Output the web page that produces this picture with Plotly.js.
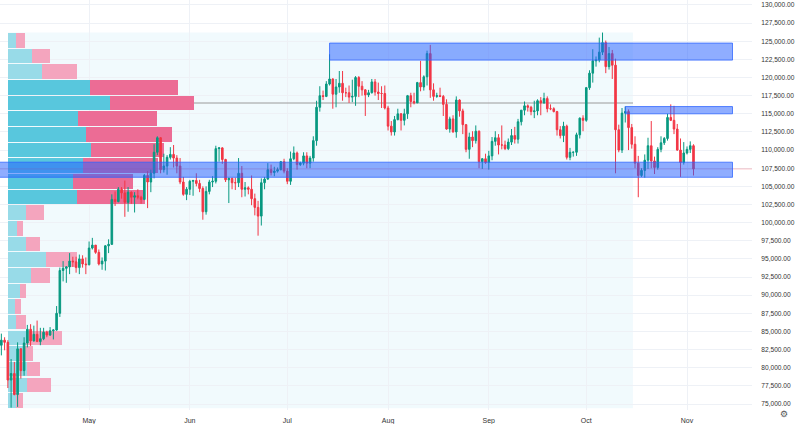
<!DOCTYPE html>
<html><head><meta charset="utf-8">
<script src="https://cdn.plot.ly/plotly-3.0.1.min.js"></script>
<style>html,body{margin:0;padding:0;background:#fff}#chart{width:800px;height:424px}</style>
</head><body><div id="chart"></div>
<script>
// Daily candles (thousands USD), first day 2025-04-03
const firstDay = [2025, 3, 3];
const open = [
 82.5,83.1,83.8,83.5,78.3,79.2,76.3,82.6,79.6,83.4,85.3,83.7,84.6,83.6,84.0,84.9,84.5,85.1,85.2,87.5,93.4,93.7,93.9,94.7,94.6,93.8,95.0,94.3,
 94.2,96.5,96.9,95.9,94.3,94.7,96.8,97.0,103.2,102.9,104.6,104.1,102.8,104.2,103.5,103.7,103.5,103.2,106.5,105.6,106.8,109.7,111.7,107.3,107.8,109.0,109.4,108.9,107.8,105.6,103.9,
 104.6,105.7,105.8,105.4,104.7,101.5,104.3,105.6,105.7,110.2,110.3,108.7,105.9,106.1,105.5,105.5,106.8,104.6,104.8,104.6,103.3,102.1,100.9,105.5,106.0,107.3,106.9,107.1,107.3,108.4,
 107.1,105.7,108.8,109.6,108.0,108.2,109.2,108.2,108.9,111.3,115.9,117.5,117.4,119.1,119.8,117.7,118.7,119.2,117.9,117.9,117.3,117.4,120.0,118.8,118.3,117.6,117.9,119.4,118.0,117.8,117.8,
 115.8,113.3,112.5,114.2,115.0,114.1,115.0,117.5,116.7,116.5,119.3,118.7,120.1,123.3,118.3,117.4,117.5,117.4,116.3,112.9,114.3,112.5,116.9,115.4,113.5,110.1,111.8,111.3,112.6,108.4,108.8,
 108.3,109.2,111.2,111.7,110.7,110.7,110.2,111.1,112.0,111.5,113.9,115.5,116.1,115.9,115.3,115.4,116.8,116.5,117.1,115.7,115.7,115.3,112.8,112.0,113.3,109.0,109.7,109.7,112.1,114.4,
 114.1,118.6,120.6,122.3,122.4,123.5,124.8,121.5,123.3,121.7,112.8,110.0,115.1,115.3,113.1,110.8,108.2,106.5,107.2,108.6,110.6,108.5,107.6,110.1,111.0,111.6,114.5,114.1,112.9,110.0,108.3,
 109.6,110.1,110.6
];
const high = [
 83.9,84.7,84.2,83.8,81.2,80.8,83.5,82.7,84.2,85.9,86.0,85.8,86.5,85.5,85.5,85.1,85.6,85.3,88.5,93.8,94.7,94.0,95.8,95.3,95.3,95.6,95.5,95.2,
 97.4,97.9,96.9,96.3,95.2,96.9,97.7,103.9,104.3,104.9,104.9,105.8,104.9,104.3,104.2,104.6,103.7,106.7,107.1,107.3,110.8,111.9,111.8,109.5,109.3,110.4,110.7,109.3,108.9,106.3,104.9,
 105.9,105.9,106.8,105.9,105.0,105.0,105.9,106.4,110.6,110.4,110.4,108.8,106.2,106.2,106.2,108.9,107.8,105.6,105.0,106.5,104.0,103.0,106.1,106.3,108.2,108.0,107.7,107.6,108.5,108.8,
 107.5,109.8,110.5,109.8,108.4,109.7,109.7,109.2,111.9,116.8,118.8,118.2,119.5,123.2,119.9,119.8,120.9,120.9,118.6,118.9,119.7,120.2,120.2,119.5,118.4,118.3,119.8,119.8,119.3,118.8,118.9,
 116.1,114.0,114.7,115.7,115.1,115.7,117.6,117.9,117.9,119.4,122.3,120.3,123.7,124.5,119.2,117.9,118.6,117.6,117.0,114.6,114.8,117.4,117.0,115.7,113.6,112.4,112.6,113.4,112.7,108.9,109.5,
 109.9,111.8,112.6,112.2,113.4,111.3,111.6,112.9,113.2,114.3,115.5,116.7,116.3,116.1,116.8,117.0,117.3,117.9,117.4,116.3,115.9,115.4,113.3,113.9,113.5,110.3,109.8,112.4,114.5,114.8,
 118.7,121.0,123.9,122.9,125.5,126.2,125.1,124.2,123.8,122.6,113.5,115.8,116.0,115.6,113.6,111.9,109.2,107.5,109.4,111.7,114.0,109.1,110.4,111.9,111.8,115.0,116.3,116.1,113.6,111.6,111.1,
 110.5,111.2,110.8
];
const low = [
 81.2,81.7,82.4,77.2,74.5,76.2,74.6,78.5,78.9,82.8,83.0,83.6,83.6,83.1,83.8,84.2,84.4,83.9,85.1,87.0,91.9,91.7,92.9,93.9,93.1,92.9,93.8,92.9,
 94.1,96.3,95.7,94.1,93.5,93.4,95.8,97.0,102.3,102.8,103.3,100.8,101.5,102.6,101.4,103.2,102.6,103.1,102.0,104.2,106.1,109.3,106.8,106.9,106.6,108.7,107.6,106.8,105.3,103.7,103.1,
 103.8,103.7,105.0,104.2,100.4,101.1,103.9,104.9,105.4,108.4,108.1,105.6,102.7,104.6,104.5,104.9,103.5,103.6,103.9,102.4,101.0,98.2,99.6,104.6,105.9,106.5,106.4,106.9,107.2,106.8,
 105.3,105.2,108.6,107.3,107.8,107.9,107.5,107.5,108.4,110.6,115.3,116.9,117.3,118.9,115.7,115.9,117.9,116.8,117.3,116.5,116.6,116.1,117.3,117.5,114.7,117.3,117.8,117.5,116.9,115.8,115.6,
 112.7,112.0,112.0,114.1,112.7,113.4,114.3,115.9,116.3,116.5,118.1,118.2,118.9,117.2,116.8,117.2,117.3,114.7,112.8,112.4,112.4,111.7,114.6,112.2,109.7,108.8,110.4,110.9,107.5,107.4,108.1,
 107.3,108.6,110.6,109.4,110.1,110.0,110.0,110.7,110.9,110.9,113.4,114.8,115.3,114.8,114.4,114.8,114.8,116.4,115.2,115.5,115.2,112.0,111.6,111.1,108.7,108.6,109.1,109.2,111.6,112.6,
 113.9,118.3,119.3,121.5,122.1,123.1,120.6,121.1,119.8,106.8,109.7,109.6,113.8,110.0,110.2,107.5,103.5,106.3,106.2,107.4,107.5,106.7,107.3,109.7,110.7,111.3,114.0,112.2,109.9,106.3,108.0,
 109.4,109.6,106.5
];
const close = [
 83.1,83.8,83.5,78.3,79.2,76.3,82.6,79.6,83.4,85.3,83.7,84.6,83.6,84.0,84.9,84.5,85.1,85.2,87.5,93.4,93.7,93.9,94.7,94.6,93.8,95.0,94.3,94.2,
 96.5,96.9,95.9,94.3,94.7,96.8,97.0,103.2,102.9,104.6,104.1,102.8,104.2,103.5,103.7,103.5,103.2,106.5,105.6,106.8,109.7,111.7,107.3,107.8,109.0,109.4,108.9,107.8,105.6,103.9,104.6,
 105.7,105.8,105.4,104.7,101.5,104.3,105.6,105.7,110.2,110.3,108.7,105.9,106.1,105.5,105.5,106.8,104.6,104.8,104.6,103.3,102.1,100.9,105.5,106.0,107.3,106.9,107.1,107.3,108.4,107.1,
 105.7,108.8,109.6,108.0,108.2,109.2,108.2,108.9,111.3,115.9,117.5,117.4,119.1,119.8,117.7,118.7,119.2,117.9,117.9,117.3,117.4,120.0,118.8,118.3,117.6,117.9,119.4,118.0,117.8,117.8,115.8,
 113.3,112.5,114.2,115.0,114.1,115.0,117.5,116.7,116.5,119.3,118.7,120.1,123.3,118.3,117.4,117.5,117.4,116.3,112.9,114.3,112.5,116.9,115.4,113.5,110.1,111.8,111.3,112.6,108.4,108.8,108.3,
 109.2,111.2,111.7,110.7,110.7,110.2,111.1,112.0,111.5,113.9,115.5,116.1,115.9,115.3,115.4,116.8,116.5,117.1,115.7,115.7,115.3,112.8,112.0,113.3,109.0,109.7,109.7,112.1,114.4,114.1,
 118.6,120.6,122.3,122.4,123.5,124.8,121.5,123.3,121.7,112.8,110.0,115.1,115.3,113.1,110.8,108.2,106.5,107.2,108.6,110.6,108.5,107.6,110.1,111.0,111.6,114.5,114.1,112.9,110.0,108.3,109.6,
 110.1,110.6,107.4
];

const monthTicks = ['2025-05-01','2025-06-01','2025-07-01','2025-08-01','2025-09-01','2025-10-01','2025-11-01'];
const monthLabels = ['May','Jun','Jul','Aug','Sep','Oct','Nov'];

// Fixed-range volume profile (row centre price, up volume, down volume)
const profilePrice = [125121,122963,120805,118647,116489,114331,112173,110015,107857,105699,103541,101383,
                      99225,97067,94909,92751,90593,88435,86277,84119,81961,79803,77645,75487];
const upVol   = [8,24,34,82,102,70,78,83,75,65,69,18,9,18,38,23,12,7,8,18,16,19,19,8];
const downVol = [9,18,35,88,84,79,86,73,75,60,68,18,6,14,31,19,6,6,10,36,9,13,24,7];
const valueAreaRows = [3, 10];
const profileStart = '2025-04-06 01:00';
const profileEnd = '2025-10-15 09:00';
const profileLow = 74400, profileHigh = 126200;

// Drawn zones
const zoneTop = {x0:'2025-07-14', x1:'2025-11-15', y0:122400, y1:124750};
const zoneMid = {x0:'2025-10-13', x1:'2025-11-15', y0:115000, y1:116000};
const zoneLow = {x0:'2025-03-01', x1:'2025-11-15', y0:106250, y1:108330};

// ---------- build ----------
const K = 1000;
const dates = close.map((_, i) => new Date(Date.UTC(firstDay[0], firstDay[1], firstDay[2] + i)).toISOString().slice(0, 10));
const xRange = ['2025-04-03 14:00', '2025-11-21 00:00'];
const plotW = 752;
const unitRange = [-8, plotW - 8];
const t = s => new Date(s.replace(' ', 'T') + (s.length > 10 ? ':00Z' : 'T00:00:00Z')).getTime();
const dateToUnit = s => (t(s) - t(xRange[0])) / (t(xRange[1]) - t(xRange[0])) * plotW + unitRange[0];

const inVA = i => i >= valueAreaRows[0] && i <= valueAreaRows[1];
const binW = (profilePrice[0] - profilePrice[1]) * 0.93;
const totals = upVol.map((v, i) => v + downVol[i]);
const poc = totals.indexOf(Math.max(...totals));

const traces = [
  {type:'bar', orientation:'h', xaxis:'x', yaxis:'y', y:profilePrice, x:upVol, width:profilePrice.map(() => binW),
   marker:{color:upVol.map((_, i) => inVA(i) ? '#58c7dd' : '#98dbe8'), line:{width:0}}, hoverinfo:'skip'},
  {type:'bar', orientation:'h', xaxis:'x', yaxis:'y', y:profilePrice, x:downVol, width:profilePrice.map(() => binW),
   marker:{color:downVol.map((_, i) => inVA(i) ? '#ec6c95' : '#f4a5be'), line:{width:0}}, hoverinfo:'skip'},
  {type:'candlestick', xaxis:'x2', yaxis:'y', x:dates,
   open:open.map(v => v * K), high:high.map(v => v * K), low:low.map(v => v * K), close:close.map(v => v * K),
   increasing:{line:{color:'#089981', width:1}, fillcolor:'#089981'},
   decreasing:{line:{color:'#f23645', width:1}, fillcolor:'#f23645'},
   whiskerwidth:0, hoverinfo:'skip'}
];

const zoneStyle = {type:'rect', xref:'x2', yref:'y', layer:'above', fillcolor:'rgba(41,98,255,0.52)', line:{color:'rgba(41,98,255,0.75)', width:1}};
const lastClose = close[close.length - 1] * K;
const font = 'Liberation Sans, Arial, sans-serif';

const layout = {
  width:800, height:424, margin:{l:0, r:800 - plotW, t:0, b:14},
  paper_bgcolor:'#ffffff', plot_bgcolor:'#ffffff', showlegend:false, barmode:'stack', bargap:0,
  xaxis:{range:unitRange, visible:false, fixedrange:true},
  xaxis2:{overlaying:'x', anchor:'y', side:'bottom', type:'date', range:xRange,
          tickmode:'array', tickvals:monthTicks, ticktext:monthLabels,
          showgrid:true, gridcolor:'#eef1f6', gridwidth:1, zeroline:false, showline:false,
          ticks:'outside', ticklen:4, tickcolor:'rgba(0,0,0,0)',
          tickfont:{family:font, size:7, color:'#333'}, rangeslider:{visible:false}, fixedrange:true},
  yaxis:{side:'right', range:[74173, 130686], tick0:0, dtick:2500, tickformat:',.2f',
         showgrid:true, gridcolor:'#eef1f6', gridwidth:1, zeroline:false, showline:false,
         ticks:'outside', ticklen:7, tickcolor:'rgba(0,0,0,0)',
         tickfont:{family:font, size:6.6, color:'#333'}, fixedrange:true},
  shapes:[
    {type:'rect', xref:'x2', yref:'y', layer:'below', x0:profileStart, x1:profileEnd, y0:profileLow, y1:profileHigh,
     fillcolor:'rgba(0,170,220,0.055)', line:{width:0}},
    {type:'line', xref:'x', yref:'y', layer:'between', x0:totals[poc], x1:dateToUnit(profileEnd),
     y0:profilePrice[poc], y1:profilePrice[poc], line:{color:'#9a9a9a', width:1}},
    {type:'line', xref:'paper', yref:'y', layer:'above', x0:0, x1:1, y0:lastClose, y1:lastClose,
     line:{color:'rgba(242,54,69,0.3)', width:1}},
    Object.assign({}, zoneStyle, zoneLow),
    Object.assign({}, zoneStyle, zoneTop),
    Object.assign({}, zoneStyle, zoneMid)
  ],
  annotations:[
    {xref:'paper', yref:'paper', x:790/plotW, y:-11/410, text:'⚙', showarrow:false,
     font:{family:'DejaVu Sans', size:9, color:'#555'}}
  ]
};

Plotly.newPlot('chart', traces, layout, {staticPlot:true, displayModeBar:false});
</script>
</body></html>
